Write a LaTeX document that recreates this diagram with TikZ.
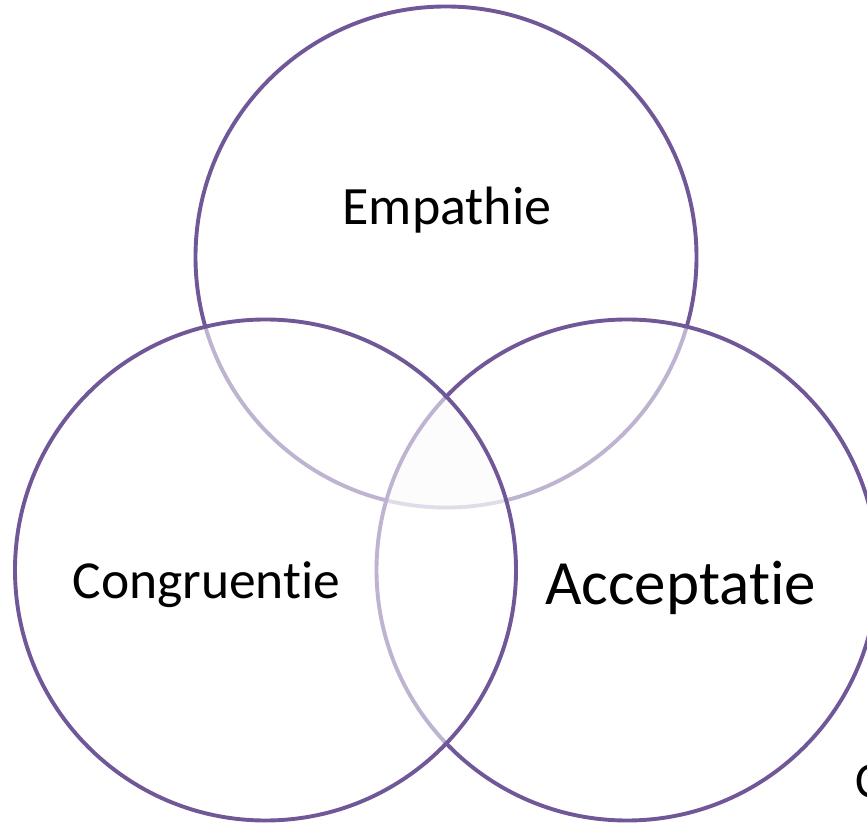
\documentclass[tikz,border=0pt]{standalone}
\usepackage{fontspec}
\setmainfont[Ligatures=NoCommon]{Carlito}
\definecolor{ring}{RGB}{112,88,152}
\definecolor{centertint}{RGB}{250,249,252}
\tikzset{
  ringcircle/.style={draw=ring, line width=3.9pt, fill=white, fill opacity=0.55, draw opacity=1},
  lbl/.style={anchor=base, inner sep=0pt, text=black}
}
\begin{document}
\begin{tikzpicture}[x=1pt,y=1pt]
\useasboundingbox (0,0) rectangle (867,822);
\clip (0,0) rectangle (867,822);
\fill[white] (0,0) rectangle (867,822);
\coordinate (ct) at (446,565);
\coordinate (cl) at (265.5,252);
\coordinate (cr) at (627,252);
\draw[ringcircle] (ct) circle (250.5);
\draw[ringcircle] (cr) circle (250.5);
\draw[ringcircle] (cl) circle (250.5);
\begin{scope}
  \clip (ct) circle (248.5);
  \clip (cl) circle (248.5);
  \fill[centertint, opacity=0.35] (cr) circle (248.5);
\end{scope}
\node[lbl, font=\fontsize{54}{60}\selectfont] (emp) at (447,597) {Empathie};
\node[lbl, font=\fontsize{53.5}{60}\selectfont] (con) at (206.5,223) {Congruentie};
\node[lbl, font=\fontsize{63}{70}\selectfont] (acc) at (680.5,217) {Acceptatie};
\node[anchor=base west, inner sep=0pt, font=\fontsize{50}{56}\selectfont] (cc) at (855,25) {C};
\end{tikzpicture}
\end{document}
